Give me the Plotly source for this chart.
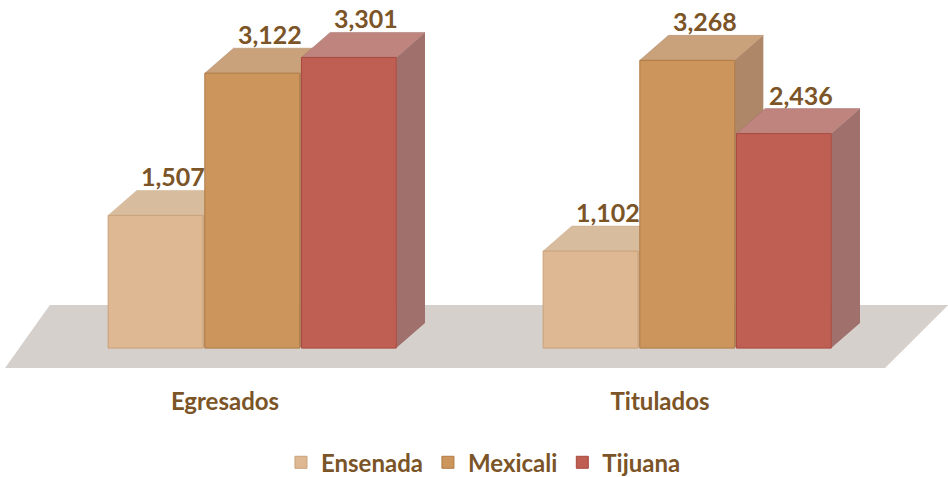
import plotly.graph_objects as go

# ---------------------------------------------------------------------
# Data
# ---------------------------------------------------------------------
categories = ["Egresados", "Titulados"]
campus = ["Ensenada", "Mexicali", "Tijuana"]
ensenada = [1507, 1102]
mexicali = [3122, 3268]
tijuana = [3301, 2436]
series = [ensenada, mexicali, tijuana]

front_colors = ["#DDB893", "#CB955C", "#BF5F53"]
side_colors = ["#CDAF91", "#AE8769", "#A0706C"]
top_colors = ["#D8BC9E", "#C9A17A", "#BF847E"]
edge_colors = ["#C8A27A", "#B07A45", "#A84A40"]
text_color = "#7B5427"
FONT = "Lato"

# 3D look: bar width / spacing and depth offsets (in axis units)
BAR_W = 0.218
STEP = 0.2222
DX = 0.066
DY = 284

fig = go.Figure()
shapes = []

# floor
shapes.append(dict(
    type="path", xref="x", yref="y", layer="below",
    path="M -0.570,-227 L 1.453,-227 L 1.598,489 L -0.467,489 Z",
    fillcolor="#D6D0CC", line=dict(width=0),
))

xs = list(range(len(categories)))
annotations = []
for i, (name, vals) in enumerate(zip(campus, series)):
    off = -0.333 + i * STEP
    fig.add_trace(go.Bar(
        x=xs, y=vals, name=name,
        width=BAR_W, offset=off,
        marker=dict(color=front_colors[i], line=dict(color=edge_colors[i], width=1)),
        hoverinfo="y",
    ))
    for x, v in zip(xs, vals):
        l = x + off
        r = l + BAR_W
        # right side face
        shapes.append(dict(
            type="path", xref="x", yref="y", layer="below",
            path=f"M {r},0 L {r+DX},{DY} L {r+DX},{v+DY} L {r},{v} Z",
            fillcolor=side_colors[i], line=dict(width=0),
        ))
        # top face
        shapes.append(dict(
            type="path", xref="x", yref="y", layer="below",
            path=f"M {l},{v} L {r},{v} L {r+DX},{v+DY} L {l+DX},{v+DY} Z",
            fillcolor=top_colors[i], line=dict(color=side_colors[i], width=0.5),
        ))
        annotations.append(dict(
            x=l + BAR_W / 2 + 0.04, y=v + DY, xref="x", yref="y",
            text=f"{v:,}", showarrow=False, yanchor="bottom", yshift=-3,
            font=dict(family=FONT, size=25, color=text_color, weight="bold"),
        ))

fig.update_layout(
    width=948, height=477,
    margin=dict(l=0, r=0, t=10, b=106),
    barmode="overlay",
    plot_bgcolor="white", paper_bgcolor="white",
    shapes=shapes,
    annotations=annotations,
    showlegend=True,
    legend=dict(
        orientation="h", x=0.51, xanchor="center",
        yref="container", y=0.03, yanchor="middle",
        font=dict(family=FONT, size=24, color=text_color, weight="bold"),
        itemwidth=30,
    ),
    xaxis=dict(
        range=[-0.5816, 1.5977], showgrid=False, zeroline=False, showline=False,
        tickvals=xs, ticktext=categories, ticklabelshift=-28, ticklabelstandoff=14,
        tickfont=dict(family=FONT, size=24, color=text_color, weight="bold"),
    ),
    yaxis=dict(
        range=[-260, 3840], visible=False,
    ),
)

fig.write_html("out.html", config={"displayModeBar": False},
               post_script="document.body.style.margin='0';")
